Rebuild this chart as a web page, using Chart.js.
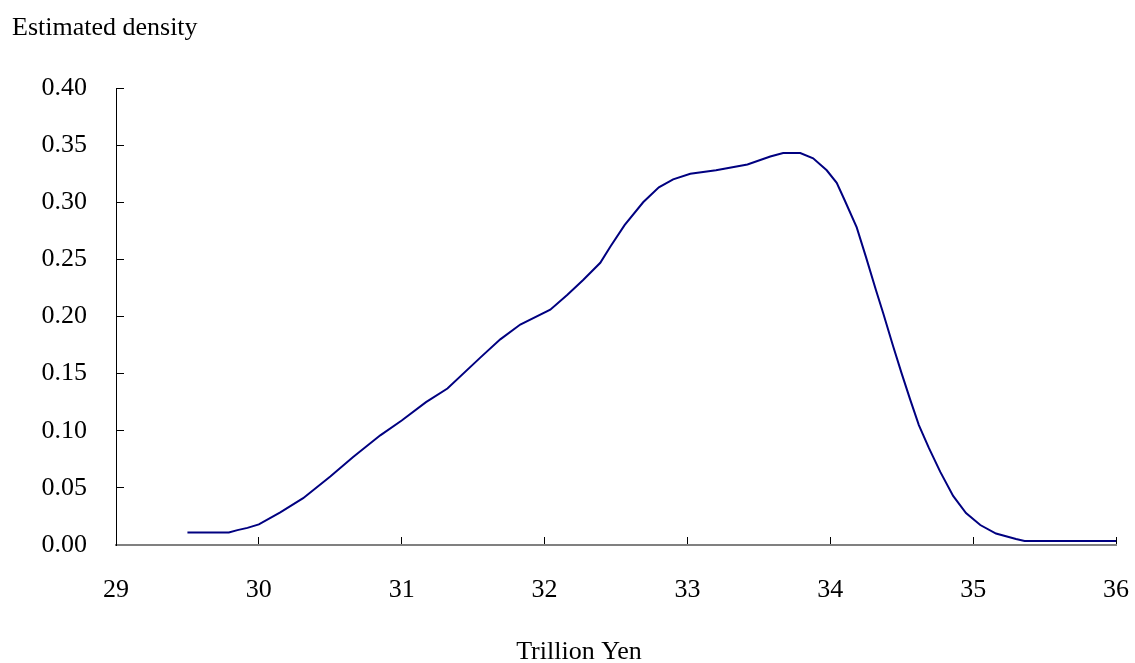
<!DOCTYPE html>
<html>
<head>
<meta charset="utf-8">
<script src="https://cdn.jsdelivr.net/npm/chart.js@4/dist/chart.umd.min.js"></script>
<style>
  html, body { margin: 0; padding: 0; background: #fff; }
  #wrap { width: 1135px; height: 663px; position: relative; }
</style>
</head>
<body>
<div id="wrap"><canvas id="density-chart"></canvas></div>
<script>
// nilai (x = triliun yen, y = kepadatan)
const xValues = [29.50, 29.79, 29.85, 29.92, 30.00, 30.15, 30.31, 30.50, 30.66, 30.85,
  31.00, 31.17, 31.32, 31.55, 31.69, 31.83, 32.04, 32.16, 32.27, 32.39,
  32.46, 32.56, 32.69, 32.80, 32.90, 33.02, 33.20, 33.42, 33.58, 33.67,
  33.79, 33.88, 33.975, 34.045, 34.10, 34.185, 34.25, 34.32, 34.37, 34.44,
  34.50, 34.56, 34.62, 34.69, 34.77, 34.86, 34.95, 35.05, 35.16, 35.30,
  35.36, 36.00];
const densityValues = [0.011, 0.011, 0.013, 0.015, 0.018, 0.0286, 0.041, 0.060, 0.077, 0.096,
  0.109, 0.125, 0.137, 0.164, 0.180, 0.193, 0.206, 0.219, 0.232, 0.247,
  0.261, 0.280, 0.300, 0.313, 0.320, 0.325, 0.328, 0.333, 0.340, 0.343,
  0.343, 0.3385, 0.328, 0.317, 0.302, 0.278, 0.252, 0.223, 0.203, 0.174,
  0.150, 0.127, 0.105, 0.085, 0.064, 0.043, 0.028, 0.0175, 0.010, 0.0053,
  0.0035, 0.0035];

const yTicks = [0, 0.05, 0.10, 0.15, 0.20, 0.25, 0.30, 0.35, 0.40];
const xTicks = [29, 30, 31, 32, 33, 34, 35, 36];

const FONT = 'Liberation Serif, "Times New Roman", serif';

// teks judul atas & judul sumbu x
const captionPlugin = {
  id: 'captions',
  afterDraw(chart) {
    const c = chart.ctx;
    c.save();
    c.fillStyle = '#000';
    c.font = '26px ' + FONT;
    c.textBaseline = 'alphabetic';
    c.textAlign = 'left';
    c.fillText('Estimated density', 12, 35);
    c.textAlign = 'center';
    c.fillText('Trillion Yen', 579, 659);
    c.restore();
  }
};

const ctx = document.getElementById('density-chart').getContext('2d');
new Chart(ctx, {
  type: 'line',
  data: {
    datasets: [{
      label: 'Estimated density',
      data: xValues.map((x, i) => ({ x, y: densityValues[i] })),
      borderColor: '#000080',
      borderWidth: 2,
      pointRadius: 0,
      tension: 0,
      fill: false
    }]
  },
  options: {
    responsive: true,
    maintainAspectRatio: false,
    animation: false,
    layout: { padding: { top: 88, right: 19, left: 0, bottom: 0 } },
    plugins: {
      legend: { display: false },
      tooltip: { enabled: false }
    },
    scales: {
      x: {
        type: 'linear',
        min: 29,
        max: 36,
        afterBuildTicks: s => { s.ticks = xTicks.map(v => ({ value: v })); },
        afterFit: s => { s.height = 118; s.paddingLeft = 0; s.paddingRight = 0; },
        border: { color: '#808080', width: 2 },
        grid: { drawOnChartArea: false, color: '#000', lineWidth: 1, tickLength: -8 },
        ticks: {
          color: '#000',
          font: { family: FONT, size: 26 },
          padding: 38,
          maxRotation: 0
        }
      },
      y: {
        min: 0,
        max: 0.4,
        afterBuildTicks: s => { s.ticks = yTicks.map(v => ({ value: v })); },
        afterFit: s => { s.width = 116; s.paddingTop = 0; s.paddingBottom = 0; },
        border: { color: '#000', width: 1 },
        grid: { drawOnChartArea: false, color: '#000', lineWidth: 1, tickLength: -8 },
        ticks: {
          color: '#000',
          font: { family: FONT, size: 26 },
          padding: 37,
          callback: v => v.toFixed(2)
        }
      }
    }
  },
  plugins: [captionPlugin]
});
</script>
</body>
</html>
